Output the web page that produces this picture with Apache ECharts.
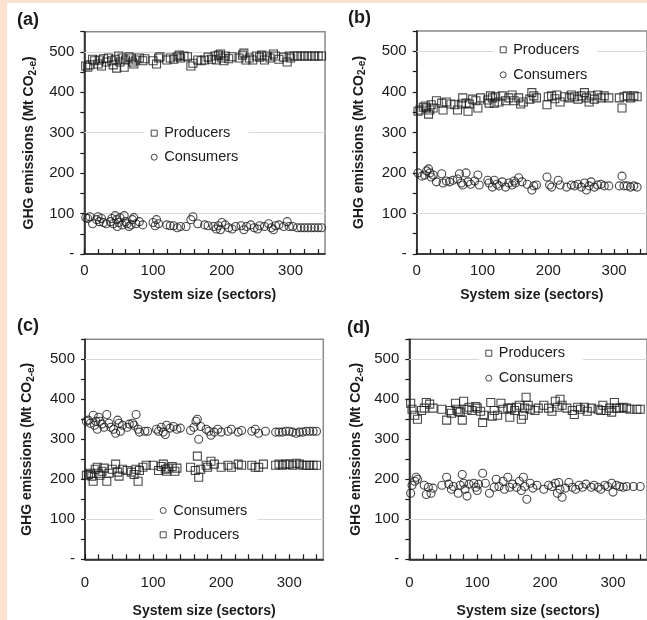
<!DOCTYPE html>
<html><head><meta charset="utf-8">
<script src="https://cdn.jsdelivr.net/npm/echarts@6/dist/echarts.min.js"></script>
<style>
html,body{margin:0;padding:0;background:#fff;}
#c{width:647px;height:620px;background:linear-gradient(to right,#fde3cf 0,#fde3cf 7px,rgba(255,255,255,0) 7px),linear-gradient(to bottom,#fde3cf 0,#fde3cf 3px,#fff 3px);}
</style></head><body><div id="c"></div>
<script>
// ---------- data ----------
const panelLabels = ['(a)', '(b)', '(c)', '(d)'];
const xTickLabels = ['0', '100', '200', '300'];
const yTickLabels = ['-', '100', '200', '300', '400', '500'];
const gridLineValues = [[100, 300, 500], [100, 500], [100, 500], [100, 500]];
const legendOrder = [['Producers', 'Consumers'], ['Producers', 'Consumers'], ['Consumers', 'Producers'], ['Producers', 'Consumers']];

const aProducers = [[2,465],[5,462],[8,468],[12,482],[15,478],[20,470],[22,480],[25,465],[28,483],[32,475],[35,485],[40,478],[42,468],[45,482],[47,460],[50,490],[52,475],[55,485],[58,462],[60,480],[65,488],[68,485],[70,475],[72,470],[75,480],[80,485],[85,478],[88,483],[100,478],[105,470],[108,485],[110,488],[120,480],[125,485],[130,482],[135,488],[138,492],[140,485],[145,490],[150,488],[155,465],[158,472],[165,480],[170,478],[175,480],[180,487],[185,482],[190,490],[192,480],[195,492],[198,495],[200,485],[203,478],[205,490],[210,483],[215,488],[225,485],[230,492],[232,497],[235,480],[240,485],[245,480],[250,490],[255,487],[258,492],[262,480],[265,490],[270,485],[275,495],[278,490],[283,482],[290,487],[295,475],[298,490],[300,485],[305,490],[310,490],[315,490],[320,490],[325,490],[330,490],[335,490],[340,490],[345,490]];
const aConsumers = [[2,90],[5,88],[8,92],[12,75],[18,85],[20,92],[22,80],[25,88],[28,78],[32,75],[38,80],[40,88],[42,75],[45,95],[47,85],[48,68],[50,78],[52,90],[55,72],[58,95],[60,80],[62,75],[65,68],[68,72],[70,85],[72,90],[75,75],[80,80],[85,72],[100,78],[103,70],[105,85],[108,75],[120,72],[125,70],[130,70],[135,65],[140,68],[148,68],[155,85],[158,92],[165,75],[175,72],[180,70],[188,68],[192,62],[195,70],[198,60],[200,78],[205,72],[210,65],[215,62],[220,68],[228,70],[232,60],[236,68],[242,72],[247,65],[252,62],[255,70],[262,68],[268,75],[272,65],[275,60],[278,70],[283,72],[290,68],[295,80],[298,68],[303,68],[310,65],[315,65],[320,65],[325,65],[330,65],[335,65],[340,65],[345,65]];

const bProducers = [[2,352],[5,355],[10,362],[13,365],[15,360],[18,345],[20,355],[22,368],[25,360],[30,378],[38,372],[40,355],[45,375],[52,370],[58,368],[62,355],[68,370],[70,385],[75,372],[78,352],[80,370],[85,382],[90,378],[93,360],[97,385],[108,380],[110,372],[112,390],[115,385],[118,372],[120,388],[125,375],[130,390],[135,378],[140,385],[145,392],[148,378],[155,385],[158,370],[162,375],[172,382],[175,398],[178,390],[182,385],[198,368],[200,388],[205,390],[210,383],[213,392],[218,375],[225,388],[232,385],[235,392],[240,388],[245,382],[250,390],[255,398],[258,385],[262,375],[265,390],[270,382],[275,392],[280,385],[285,390],[292,385],[308,385],[312,360],[315,388],[320,390],[325,385],[330,390],[335,388]];
const bConsumers = [[2,200],[8,192],[12,195],[15,205],[18,210],[20,200],[22,190],[25,195],[30,178],[38,198],[40,175],[45,180],[50,178],[55,182],[62,185],[65,198],[68,175],[70,170],[75,200],[78,178],[82,172],[88,180],[93,195],[95,170],[108,182],[110,175],[115,165],[118,182],[122,172],[125,168],[130,178],[135,165],[140,175],[145,170],[148,180],[150,175],[155,188],[160,178],[168,172],[175,158],[178,168],[182,170],[198,190],[202,170],[205,165],[215,182],[218,170],[228,165],[235,170],[240,168],[245,172],[250,165],[255,175],[258,158],[262,168],[265,178],[270,165],[275,170],[280,172],[285,168],[292,168],[308,168],[312,192],[315,168],[320,168],[325,165],[330,168],[335,165]];

const cConsumers = [[2,345],[5,348],[8,340],[12,360],[14,335],[16,345],[18,325],[20,355],[22,345],[25,338],[28,330],[32,362],[35,340],[38,330],[42,325],[45,315],[48,348],[50,340],[52,320],[55,335],[62,330],[65,338],[70,340],[72,335],[75,362],[78,325],[80,318],[88,320],[92,320],[105,325],[108,320],[112,330],[115,318],[118,312],[120,335],[125,328],[130,332],[135,325],[140,328],[155,322],[160,330],[163,345],[165,350],[167,300],[170,332],[178,325],[182,320],[185,310],[190,318],[195,325],[200,318],[210,320],[215,325],[225,318],[230,322],[245,320],[250,325],[255,315],[265,320],[280,318],[285,318],[290,318],[295,320],[300,320],[305,318],[310,315],[315,318],[320,318],[325,320],[330,320],[335,320],[340,320]];
const cProducers = [[2,210],[5,212],[8,215],[10,208],[12,195],[15,225],[18,230],[20,215],[22,210],[25,220],[28,228],[32,195],[35,215],[40,225],[45,238],[48,218],[50,208],[55,225],[62,222],[68,218],[72,212],[75,225],[78,195],[80,222],[85,230],[90,235],[100,235],[108,222],[112,232],[115,238],[118,225],[120,220],[122,228],[128,232],[132,220],[135,228],[155,230],[162,222],[165,258],[167,205],[170,225],[178,235],[180,230],[185,245],[190,238],[200,230],[210,235],[215,230],[225,238],[230,235],[245,235],[250,230],[255,230],[262,238],[280,235],[285,238],[290,235],[295,238],[300,238],[305,235],[310,240],[315,238],[320,235],[325,235],[330,235],[335,235],[340,235]];

const dProducers = [[2,390],[4,375],[8,360],[12,350],[18,372],[22,378],[25,392],[30,388],[35,378],[48,375],[55,348],[60,372],[62,365],[68,390],[70,375],[72,370],[75,368],[78,348],[80,395],[85,375],[88,380],[92,372],[98,382],[100,378],[105,370],[108,342],[110,360],[120,392],[122,358],[125,372],[130,360],[135,390],[138,375],[145,378],[148,355],[150,378],[155,372],[158,380],[162,385],[165,350],[168,360],[170,378],[172,405],[175,385],[178,375],[185,372],[190,378],[198,385],[205,378],[210,370],[215,395],[218,380],[222,400],[225,385],[232,378],[240,372],[243,362],[248,380],[252,375],[258,380],[262,370],[268,378],[278,375],[282,372],[285,385],[290,372],[295,378],[298,368],[302,392],[305,378],[310,378],[315,380],[320,378],[325,375],[335,375],[340,375]];
const dConsumers = [[2,165],[4,185],[8,195],[10,205],[12,200],[22,185],[25,162],[28,180],[32,165],[35,178],[48,185],[55,205],[58,188],[62,175],[65,182],[72,165],[75,185],[78,212],[80,190],[82,175],[85,158],[88,188],[95,190],[98,180],[100,172],[102,188],[108,215],[112,190],[118,165],[125,180],[128,200],[132,182],[138,195],[140,175],[145,205],[148,180],[152,188],[158,180],[162,195],[165,172],[168,205],[170,182],[173,150],[178,190],[182,178],[188,185],[198,175],[205,185],[210,182],[215,190],[218,165],[220,192],[222,175],[225,155],[230,178],[235,192],[240,180],[245,175],[250,185],[255,180],[260,188],[268,180],[272,185],[278,180],[282,175],[288,185],[292,182],[298,190],[300,168],[305,185],[310,182],[315,180],[320,182],[330,182],[340,182]];

const panelData = [
  {Producers: aProducers, Consumers: aConsumers},
  {Producers: bProducers, Consumers: bConsumers},
  {Producers: cProducers, Consumers: cConsumers},
  {Producers: dProducers, Consumers: dConsumers}
];

// ---------- layout / style ----------
const FONT = '"Liberation Sans", Arial, Helvetica, sans-serif';
const INK = '#1a1a1a';
const grids = [
  {left: 84.3, top: 31.7, width: 240.7, height: 222.3},
  {left: 416.7, top: 31, width: 240, height: 223},
  {left: 85, top: 339.3, width: 238.3, height: 220},
  {left: 409.3, top: 339.3, width: 240, height: 220}
];
const xLabelMargin = [9, 9, 16, 16];
const xNameGap = [34, 34, 45, 45];
const yNameGap = [46, 49, 49, 44];
const titlePos = [[17, 11], [348, 9], [17, 317], [347, 319]];
const legendPos = [[144.7, 122.7], [493.7, 39.3], [153.7, 500], [479.3, 342.7]];
const legendGap = [9, 10, 9.3, 10];

const chart = echarts.init(document.getElementById('c'), null, {renderer: 'canvas'});

const option = {
  animation: false,
  backgroundColor: 'transparent',
  textStyle: {fontFamily: FONT},
  title: panelLabels.map((t, i) => ({
    text: t, left: titlePos[i][0], top: titlePos[i][1], padding: 0,
    textStyle: {fontSize: 18, fontWeight: 'bold', color: INK, fontFamily: FONT}
  })),
  grid: grids.map(g => Object.assign({show: true, borderColor: '#8a8a8a', borderWidth: 1.5, backgroundColor: 'transparent', containLabel: false}, g)),
  xAxis: grids.map((g, i) => ({
    gridIndex: i, type: 'value', min: 0, max: 350, interval: 20,
    name: 'System size (sectors)', nameLocation: 'middle', nameGap: xNameGap[i],
    nameTextStyle: {fontSize: 14, fontWeight: 'bold', color: INK, fontFamily: FONT},
    axisLine: {show: true, onZero: false, lineStyle: {color: INK, width: 1.5}},
    axisTick: {show: true, inside: true, length: 5, lineStyle: {color: INK, width: 1.2}},
    axisLabel: {
      fontSize: 15, color: INK, margin: xLabelMargin[i], fontFamily: FONT, showMaxLabel: false,
      formatter: v => (v % 100 === 0 ? (xTickLabels[v / 100] || '') : '')
    },
    splitLine: {show: false}
  })),
  yAxis: grids.map((g, i) => ({
    gridIndex: i, type: 'value', min: 0, max: 550, interval: 50,
    name: '{m|GHG emissions (Mt CO}{s|2-e}{m|)}', nameLocation: 'middle', nameRotate: 90, nameGap: yNameGap[i],
    nameTextStyle: {
      fontSize: 14, fontWeight: 'bold', color: INK, fontFamily: FONT,
      rich: {
        m: {fontSize: 14, fontWeight: 'bold', color: INK, fontFamily: FONT, lineHeight: 16, verticalAlign: 'top'},
        s: {fontSize: 10, fontWeight: 'bold', color: INK, fontFamily: FONT, lineHeight: 10, verticalAlign: 'bottom', padding: [9, 0, 0, 0]}
      }
    },
    axisLine: {show: true, onZero: false, lineStyle: {color: INK, width: 1.5}},
    axisTick: {show: true, inside: false, length: 4, lineStyle: {color: INK, width: 1.2}},
    axisLabel: {
      fontSize: 15, color: INK, margin: 10, fontFamily: FONT,
      formatter: v => (v % 100 === 0 ? (yTickLabels[v / 100] || '') : '')
    },
    splitLine: {show: false}
  })),
  legend: legendOrder.map((names, i) => ({
    orient: 'vertical', left: legendPos[i][0], top: legendPos[i][1], z: 20, zlevel: 0,
    padding: [3, 10, 3, 6], itemGap: legendGap[i], itemWidth: 6, itemHeight: 6,
    backgroundColor: '#fff', selectedMode: false,
    textStyle: {fontSize: 14.5, color: INK, fontFamily: FONT, padding: [0, 0, 0, 2]},
    data: names.map(n => ({
      name: n, icon: n === 'Producers' ? 'rect' : 'circle',
      itemStyle: {color: 'rgba(0,0,0,0)', borderColor: INK, borderWidth: 1}
    }))
  })),
  series: []
};

panelData.forEach((pd, i) => {
  ['Producers', 'Consumers'].forEach((n, k) => {
    const s = {
      type: 'scatter', name: n, xAxisIndex: i, yAxisIndex: i,
      data: pd[n],
      symbol: n === 'Producers' ? 'rect' : 'circle',
      symbolSize: 8,
      itemStyle: {color: 'rgba(0,0,0,0)', borderColor: INK, borderWidth: 1.1},
      emphasis: {disabled: true}, z: 3
    };
    if (k === 0) {
      s.markLine = {
        silent: true, symbol: 'none', label: {show: false}, animation: false, z: 1,
        lineStyle: {color: '#d9d9d9', width: 1, type: 'solid'},
        data: gridLineValues[i].map(v => ({yAxis: v}))
      };
    }
    option.series.push(s);
  });
});

chart.setOption(option);
</script></body></html>
